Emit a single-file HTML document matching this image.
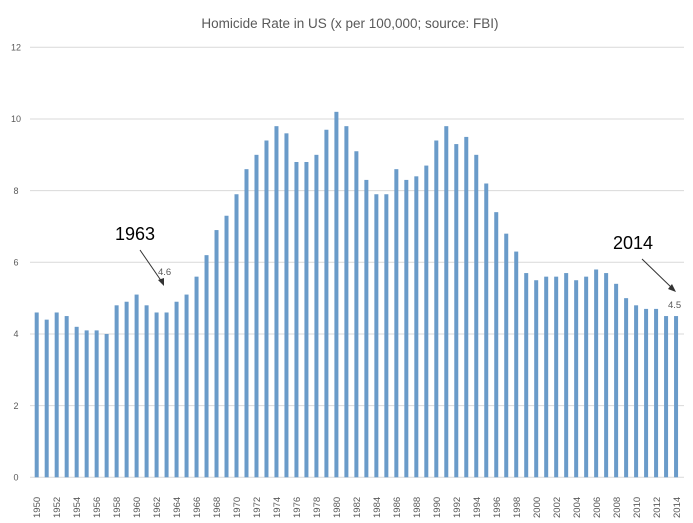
<!DOCTYPE html>
<html><head><meta charset="utf-8"><style>
html,body{margin:0;padding:0;background:#fff;}
svg{display:block;font-family:"Liberation Sans",sans-serif;}
</style></head><body>
<svg id="s" width="693" height="523" viewBox="0 0 693 523" xmlns="http://www.w3.org/2000/svg">
<rect width="693" height="523" fill="#fff"/>
<text x="350" y="28" text-anchor="middle" font-size="13.5" fill="#595959">Homicide Rate in US (x per 100,000; source: FBI)</text>
<g stroke="#d9d9d9" stroke-width="1">
<line x1="30" x2="684" y1="47.3" y2="47.3"/>
<line x1="30" x2="684" y1="119" y2="119"/>
<line x1="30" x2="684" y1="190.6" y2="190.6"/>
<line x1="30" x2="684" y1="262.3" y2="262.3"/>
<line x1="30" x2="684" y1="334" y2="334"/>
<line x1="30" x2="684" y1="405.6" y2="405.6"/>
<line x1="30" x2="684" y1="477.3" y2="477.3"/>
</g>
<g font-size="9" fill="#595959" text-anchor="middle">
<text x="16" y="50.5">12</text><text x="16" y="122">10</text><text x="16" y="194">8</text><text x="16" y="265.5">6</text><text x="16" y="337">4</text><text x="16" y="409">2</text><text x="16" y="480.5">0</text>
</g>
<g id="bars" fill="#6a9bc9"></g>
<g id="lab" font-size="9.5" fill="#595959"></g>
<text x="115" y="240" font-size="18" fill="#000">1963</text>
<text x="613" y="249" font-size="18" fill="#000">2014</text>
<line x1="140" y1="250" x2="162" y2="282" stroke="#333" stroke-width="1"/>
<polygon points="164,286 158,280 164,278" fill="#333"/>
<line x1="642" y1="259" x2="673" y2="289" stroke="#333" stroke-width="1"/>
<polygon points="676,292 668,289 672,284" fill="#333"/>
<text x="158" y="305" font-size="9.5" fill="#595959" transform="translate(0,-30)">4.6</text>
<text x="668" y="308" font-size="9.5" fill="#595959">4.5</text>
<text transform="translate(40,518) rotate(-90)" font-size="9.5" fill="#595959">1950</text>
<text transform="translate(60,518) rotate(-90)" font-size="9.5" fill="#595959">1952</text>
<text transform="translate(80,518) rotate(-90)" font-size="9.5" fill="#595959">1954</text>
<text transform="translate(100,518) rotate(-90)" font-size="9.5" fill="#595959">1956</text>
<text transform="translate(120,518) rotate(-90)" font-size="9.5" fill="#595959">1958</text>
<text transform="translate(140,518) rotate(-90)" font-size="9.5" fill="#595959">1960</text>
<text transform="translate(160,518) rotate(-90)" font-size="9.5" fill="#595959">1962</text>
<text transform="translate(180,518) rotate(-90)" font-size="9.5" fill="#595959">1964</text>
<text transform="translate(200,518) rotate(-90)" font-size="9.5" fill="#595959">1966</text>
<text transform="translate(220,518) rotate(-90)" font-size="9.5" fill="#595959">1968</text>
<text transform="translate(240,518) rotate(-90)" font-size="9.5" fill="#595959">1970</text>
<text transform="translate(260,518) rotate(-90)" font-size="9.5" fill="#595959">1972</text>
<text transform="translate(280,518) rotate(-90)" font-size="9.5" fill="#595959">1974</text>
<text transform="translate(300,518) rotate(-90)" font-size="9.5" fill="#595959">1976</text>
<text transform="translate(320,518) rotate(-90)" font-size="9.5" fill="#595959">1978</text>
<text transform="translate(340,518) rotate(-90)" font-size="9.5" fill="#595959">1980</text>
<text transform="translate(360,518) rotate(-90)" font-size="9.5" fill="#595959">1982</text>
<text transform="translate(380,518) rotate(-90)" font-size="9.5" fill="#595959">1984</text>
<text transform="translate(400,518) rotate(-90)" font-size="9.5" fill="#595959">1986</text>
<text transform="translate(420,518) rotate(-90)" font-size="9.5" fill="#595959">1988</text>
<text transform="translate(440,518) rotate(-90)" font-size="9.5" fill="#595959">1990</text>
<text transform="translate(460,518) rotate(-90)" font-size="9.5" fill="#595959">1992</text>
<text transform="translate(480,518) rotate(-90)" font-size="9.5" fill="#595959">1994</text>
<text transform="translate(500,518) rotate(-90)" font-size="9.5" fill="#595959">1996</text>
<text transform="translate(520,518) rotate(-90)" font-size="9.5" fill="#595959">1998</text>
<text transform="translate(540,518) rotate(-90)" font-size="9.5" fill="#595959">2000</text>
<text transform="translate(560,518) rotate(-90)" font-size="9.5" fill="#595959">2002</text>
<text transform="translate(580,518) rotate(-90)" font-size="9.5" fill="#595959">2004</text>
<text transform="translate(600,518) rotate(-90)" font-size="9.5" fill="#595959">2006</text>
<text transform="translate(620,518) rotate(-90)" font-size="9.5" fill="#595959">2008</text>
<text transform="translate(640,518) rotate(-90)" font-size="9.5" fill="#595959">2010</text>
<text transform="translate(660,518) rotate(-90)" font-size="9.5" fill="#595959">2012</text>
<text transform="translate(680,518) rotate(-90)" font-size="9.5" fill="#595959">2014</text>
</svg>
<script>
var d=[4.6,4.4,4.6,4.5,4.2,4.1,4.1,4.0,4.8,4.9,5.1,4.8,4.6,4.6,4.9,5.1,5.6,6.2,6.9,7.3,7.9,8.6,9.0,9.4,9.8,9.6,8.8,8.8,9.0,9.7,10.2,9.8,9.1,8.3,7.9,7.9,8.6,8.3,8.4,8.7,9.4,9.8,9.3,9.5,9.0,8.2,7.4,6.8,6.3,5.7,5.5,5.6,5.6,5.7,5.5,5.6,5.8,5.7,5.4,5.0,4.8,4.7,4.7,4.5,4.5];
var g=document.getElementById('bars'),ns='http://www.w3.org/2000/svg';
d.forEach(function(v,i){var r=document.createElementNS(ns,'rect');var c=36.7+9.99*i;var h=v*35.83;
r.setAttribute('x',c-2);r.setAttribute('width',4);r.setAttribute('y',477.3-h);r.setAttribute('height',h);g.appendChild(r);});
</script>
</body></html>
